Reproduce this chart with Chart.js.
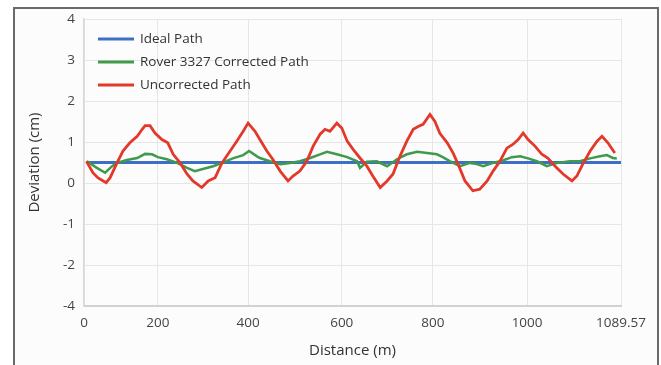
<!DOCTYPE html>
<html>
<head>
<meta charset="utf-8">
<script src="https://cdn.jsdelivr.net/npm/chart.js@4/dist/chart.umd.min.js"></script>
<style>
  html, body { margin: 0; padding: 0; background: #ffffff; }
  #wrap { position: relative; width: 661px; height: 365px; overflow: hidden; }
  #frame { position: absolute; left: 13px; top: 7px; width: 642px; height: 400px;
           border: 2px solid #6a6a6a; background: #fcfcfc; }
  #c { position: absolute; left: 0; top: 0; }
</style>
</head>
<body>
<div id="wrap">
  <div id="frame"></div>
  <canvas id="c" width="661" height="365"></canvas>
</div>
<script>
// ---- tick labels (x axis ticks are placed where the reference draws them) ----
const xTickAt     = [0, 150, 333, 523, 708, 899, 1089.57];
const xTickLabels = ['0', '200', '400', '600', '800', '1000', '1089.57'];
const yTickValues = [4, 3, 2, 1, 0, -1, -2, -3];
const yTickLabels = ['4', '3', '2', '1', '0', '-1', '-2', '-4'];

// ---- series ----
const idealX = [5, 1089.57];
const idealY = [0.5, 0.5];

const roverX = [6, 26, 43, 57, 67, 87, 108, 124, 138, 150, 168, 189, 209, 225, 241, 262, 280, 302, 323, 335,
  351, 357, 377, 398, 418, 438, 459, 479, 493, 513, 534, 554, 560, 574, 594, 615, 635, 655, 676, 696,
  716, 728, 743, 763, 783, 797, 810, 830, 850, 868, 885, 901, 919, 939, 960, 986, 1006, 1027, 1047, 1061,
  1073, 1081];
const roverY = [0.53, 0.37, 0.25, 0.41, 0.49, 0.56, 0.61, 0.71, 0.70, 0.63, 0.58, 0.49, 0.37, 0.29, 0.34, 0.41, 0.49, 0.60, 0.68, 0.78,
  0.65, 0.61, 0.53, 0.46, 0.49, 0.53, 0.61, 0.70, 0.76, 0.70, 0.63, 0.53, 0.37, 0.52, 0.53, 0.41, 0.58, 0.70, 0.76, 0.73,
  0.70, 0.63, 0.53, 0.41, 0.49, 0.46, 0.41, 0.49, 0.55, 0.63, 0.65, 0.60, 0.53, 0.41, 0.49, 0.53, 0.53, 0.60, 0.65, 0.68,
  0.61, 0.60];

const uncorrX = [5, 18, 28, 39, 45, 53, 67, 79, 93, 108, 118, 124, 134, 144, 158, 170, 181, 195, 209, 221,
  239, 252, 266, 280, 292, 310, 323, 333, 347, 359, 371, 383, 398, 414, 424, 438, 452, 465, 479, 489,
  499, 513, 523, 534, 546, 560, 574, 586, 601, 615, 627, 641, 655, 668, 678, 688, 702, 712, 722, 737,
  749, 759, 773, 789, 803, 818, 830, 844, 858, 870, 881, 891, 901, 915, 929, 941, 956, 972, 990, 1000,
  1012, 1027, 1041, 1051, 1063, 1077];
const uncorrY = [0.53, 0.25, 0.13, 0.05, 0.01, 0.13, 0.49, 0.78, 0.98, 1.14, 1.31, 1.40, 1.40, 1.22, 1.06, 0.98, 0.70, 0.49, 0.22, 0.05,
  -0.11, 0.05, 0.13, 0.49, 0.70, 1.02, 1.26, 1.46, 1.26, 1.02, 0.78, 0.58, 0.29, 0.05, 0.17, 0.29, 0.53, 0.90, 1.19, 1.31,
  1.26, 1.46, 1.34, 1.02, 0.82, 0.61, 0.41, 0.17, -0.11, 0.05, 0.22, 0.65, 1.02, 1.31, 1.38, 1.43, 1.67, 1.50, 1.21, 0.98,
  0.73, 0.46, 0.05, -0.19, -0.15, 0.05, 0.29, 0.53, 0.85, 0.94, 1.06, 1.22, 1.06, 0.90, 0.70, 0.61, 0.41, 0.22, 0.05, 0.17,
  0.46, 0.78, 1.02, 1.14, 0.98, 0.73];

const seriesNames = ['Ideal Path', 'Rover 3327 Corrected Path', 'Uncorrected Path'];

const pts = (xs, ys) => xs.map((x, i) => ({ x: x, y: ys[i] }));

const FONT = "'Open Sans', 'DejaVu Sans', sans-serif";

// legend drawn inside the plot area, one row per dataset
const insideLegend = {
  id: 'insideLegend',
  afterDatasetsDraw(chart) {
    const ctx = chart.ctx;
    const a = chart.chartArea;
    ctx.save();
    ctx.font = "13.5px " + FONT;
    ctx.textBaseline = 'middle';
    ctx.textAlign = 'left';
    chart.data.datasets.forEach((ds, i) => {
      const y = a.top + 20 + i * 23;
      ctx.fillStyle = ds.borderColor;
      ctx.fillRect(a.left + 14, y - 1.5, 36, 3);
      ctx.fillStyle = '#333333';
      ctx.fillText(ds.label, a.left + 56, y);
    });
    ctx.restore();
  }
};

new Chart(document.getElementById('c'), {
  type: 'line',
  data: {
    datasets: [
      { label: seriesNames[0], data: pts(idealX, idealY), borderColor: '#3d6fc6', backgroundColor: '#3d6fc6',
        borderWidth: 3, pointRadius: 0, tension: 0, order: 3 },
      { label: seriesNames[1], data: pts(roverX, roverY), borderColor: '#3f9a4c', backgroundColor: '#3f9a4c',
        borderWidth: 2.5, pointRadius: 0, tension: 0, order: 2 },
      { label: seriesNames[2], data: pts(uncorrX, uncorrY), borderColor: '#e2392b', backgroundColor: '#e2392b',
        borderWidth: 2.8, pointRadius: 0, tension: 0, order: 1 }
    ]
  },
  plugins: [insideLegend],
  options: {
    responsive: false,
    animation: false,
    layout: { padding: { left: 24, top: 19, right: 40, bottom: 0 } },
    plugins: {
      tooltip: { enabled: false },
      legend: { display: false }
    },
    scales: {
      x: {
        type: 'linear',
        min: 0,
        max: 1089.57,
        afterBuildTicks: (s) => { s.ticks = xTickAt.map(v => ({ value: v })); },
        afterFit: (s) => { s.height = 59; },
        ticks: {
          autoSkip: false, maxRotation: 0, padding: 9,
          color: '#444444', font: { family: FONT, size: 13.5 },
          callback: (v, i) => xTickLabels[i]
        },
        grid: { color: '#e6e6e6', drawTicks: false, lineWidth: 1 },
        border: { color: '#d2d2d2', width: 2 },
        title: { display: true, text: 'Distance (m)', color: '#333333',
                 font: { family: FONT, size: 15 }, padding: { top: 0, bottom: 5 } }
      },
      y: {
        type: 'linear',
        min: -3,
        max: 4,
        afterBuildTicks: (s) => { s.ticks = yTickValues.map(v => ({ value: v })); },
        afterFit: (s) => { s.width = 60; },
        ticks: {
          padding: 9,
          color: '#444444', font: { family: FONT, size: 13.5 },
          callback: (v, i) => yTickLabels[i]
        },
        grid: { color: '#e6e6e6', drawTicks: false, lineWidth: 1 },
        border: { color: '#d8d8d8', width: 1.5 },
        title: { display: true, text: 'Deviation (cm)', color: '#333333',
                 font: { family: FONT, size: 15 }, padding: { top: 2, bottom: 0 } }
      }
    }
  }
});
</script>
</body>
</html>
